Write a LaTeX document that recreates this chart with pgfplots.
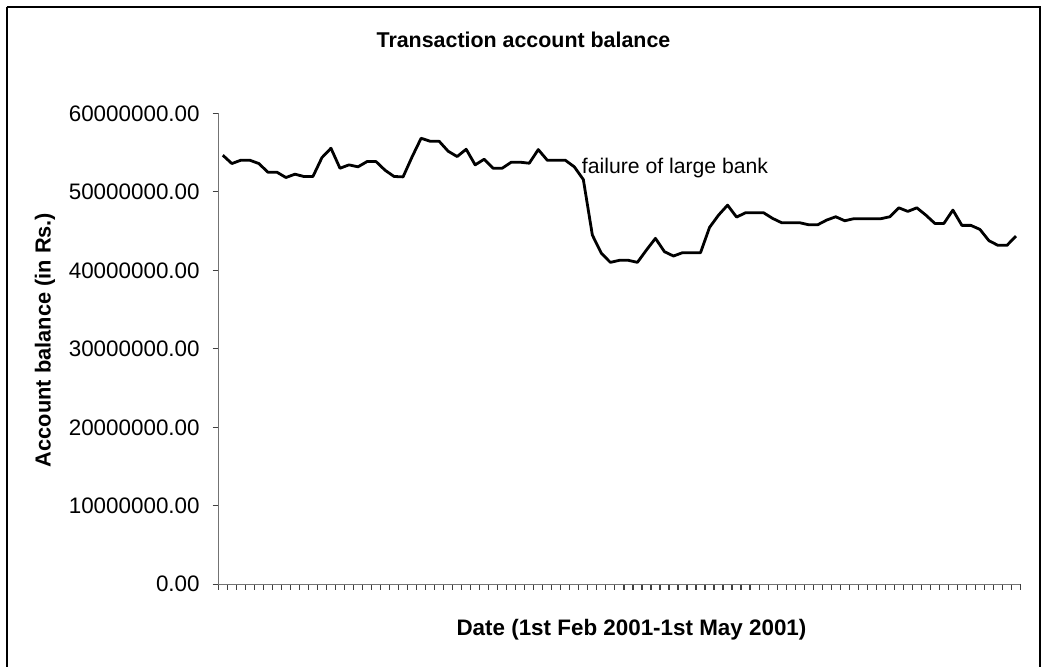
\documentclass[border=0pt]{standalone}
\usepackage{pgfplots}
\pgfplotsset{compat=1.18}
\usepackage{pgfplotstable}
\usepackage{fontspec}
\setmainfont{Liberation Sans}
\pgfplotstableread{
x y
0 54660000
1 53600000
2 54020000
3 54020000
4 53600000
5 52500000
6 52500000
7 51820000
8 52240000
9 51950000
10 51950000
11 54360000
12 55550000
13 53000000
14 53430000
15 53180000
16 53850000
17 53850000
18 52750000
19 51950000
20 51900000
21 54450000
22 56820000
23 56440000
24 56440000
25 55170000
26 54490000
27 55420000
28 53430000
29 54150000
30 53000000
31 53000000
32 53770000
33 53770000
34 53640000
35 55380000
36 54020000
37 54020000
38 54020000
39 53180000
40 51560000
41 44490000
42 42160000
43 41010000
44 41270000
45 41270000
46 41010000
47 42580000
48 44070000
49 42370000
50 41820000
51 42240000
52 42240000
53 42240000
54 45460000
55 47030000
56 48300000
57 46780000
58 47330000
59 47330000
60 47330000
61 46610000
62 46060000
63 46060000
64 46060000
65 45800000
66 45800000
67 46400000
68 46820000
69 46310000
70 46570000
71 46570000
72 46570000
73 46570000
74 46820000
75 47960000
76 47500000
77 47960000
78 47030000
79 45970000
80 45970000
81 47670000
82 45720000
83 45720000
84 45210000
85 43770000
86 43180000
87 43180000
88 44360000
}\balance
\begin{document}
\begin{tikzpicture}
\useasboundingbox (0pt,0pt) rectangle (520.5pt,333.5pt);
\draw[line width=0.8pt,black] (3.35pt,329.85pt) -- (520pt,329.85pt) -- (520pt,-1pt) (3.35pt,329.85pt) -- (3.35pt,-1pt);
\begin{axis}[
  at={(109.15pt,41.35pt)}, anchor=south west,
  scale only axis, width=401.1pt, height=235.5pt,
  xmin=-0.5, xmax=88.5, ymin=0, ymax=60000000,
  axis lines=left, axis line style={-, draw=gray!90!black, line width=0.6pt},
  tick align=outside, major tick length=2.8pt,
  tick style={draw=black!75, line width=0.6pt},
  xtick={-0.5,0.5,...,88.5}, xticklabels={},
  ytick={0,10000000,20000000,30000000,40000000,50000000,60000000},
  yticklabels={0.00,10000000.00,20000000.00,30000000.00,40000000.00,50000000.00,60000000.00},
  yticklabel style={font=\fontsize{11.2}{13}\selectfont, anchor=east, xshift=-3pt},
  scaled y ticks=false,
  clip=false,
]
\addplot[black, line width=1.4pt, line join=round, mark=none] table[x=x,y=y] {\balance};
\node[anchor=west, inner sep=0pt, font=\fontsize{10.6}{13}\selectfont] at (axis cs:39.8,53000000) {failure of large bank};
\end{axis}
\node[font=\fontsize{10.7}{13}\selectfont\bfseries] at (261.75pt,313.75pt) {Transaction account balance};
\node[font=\fontsize{11.2}{13}\selectfont\bfseries] at (315.75pt,18.5pt) {Date (1st Feb 2001-1st May 2001)};
\node[font=\fontsize{10.9}{13}\selectfont\bfseries, rotate=90] at (22.5pt,163.5pt) {Account balance (in Rs.)};
\end{tikzpicture}
\end{document}
